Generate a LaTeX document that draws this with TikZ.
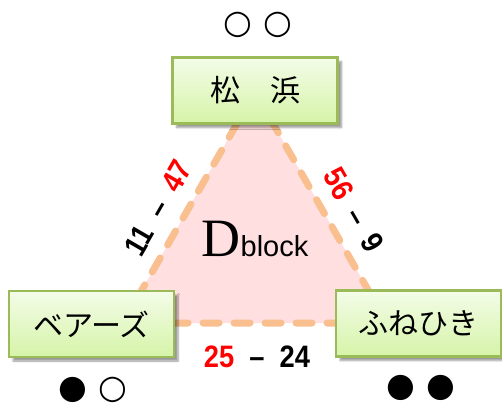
\documentclass[tikz,border=0pt]{standalone}
\usepackage{fontspec}
\setmainfont{Liberation Serif}
\newfontfamily\jpfont{Noto Sans CJK JP}
\newfontfamily\numfont[FakeStretch=0.88]{Liberation Sans}
\newfontfamily\blockfont{Liberation Sans}
\newfontfamily\symfont{DejaVu Sans}
\usetikzlibrary{shadows.blur}
\definecolor{boxtop}{HTML}{F4FCE8}
\definecolor{boxbot}{HTML}{D5F4A8}
\definecolor{boxline}{HTML}{9BBB59}
\definecolor{tripink}{HTML}{FFDFE0}
\definecolor{tridash}{HTML}{F9BF8F}

\begin{document}
\begin{tikzpicture}[x=1pt,y=-1pt,
  team/.style={draw=boxline,line width=2.5pt,top color=boxtop,bottom color=boxbot,
    minimum width=165pt,minimum height=66pt,font=\jpfont\fontsize{30}{30}\selectfont,
    blur shadow={shadow xshift=4pt,shadow yshift=-4pt,shadow blur steps=6}},
  score/.style={inner sep=0pt,font=\numfont\bfseries\fontsize{31}{31}\selectfont},
  marks/.style={inner sep=0pt,font=\symfont\fontsize{33}{33}\selectfont}]
\useasboundingbox (0,0) rectangle (502,407);
\coordinate (apex) at (255,92); \coordinate (bl) at (123,323); \coordinate (br) at (387,323);
\draw[tridash,fill=tripink,line width=7pt,line cap=round,dash pattern=on 16pt off 15pt]
  (apex) -- (br) -- (bl) -- cycle;
\node (dblock) at (255,239) {\fontsize{54}{54}\selectfont D\blockfont\fontsize{29}{29}\selectfont block};

\node[team] (matsu) at (255,90.5) {松　浜};
\node[team] (bears) at (91.5,324) {ベアーズ};
\node[team] (fune) at (418.5,323.5) {ふねひき};

\node[marks] (matsumk) at (258,25) {○ ○};
\node[marks] (bearsmk) at (93,390) {● ○};
\node[marks] (funemk) at (421,388) {● ●};

\node[score,rotate=60] (leftscore) at (158,208) {11\ \ –\ \ \textcolor{red}{47}};
\node[score,rotate=-60] (rightscore) at (354,210) {\textcolor{red}{56}\ \ –\ \ 9};
\node[score] (bottomscore) at (257,357) {\textcolor{red}{25}\ \ –\ \ 24};
\end{tikzpicture}
\end{document}
